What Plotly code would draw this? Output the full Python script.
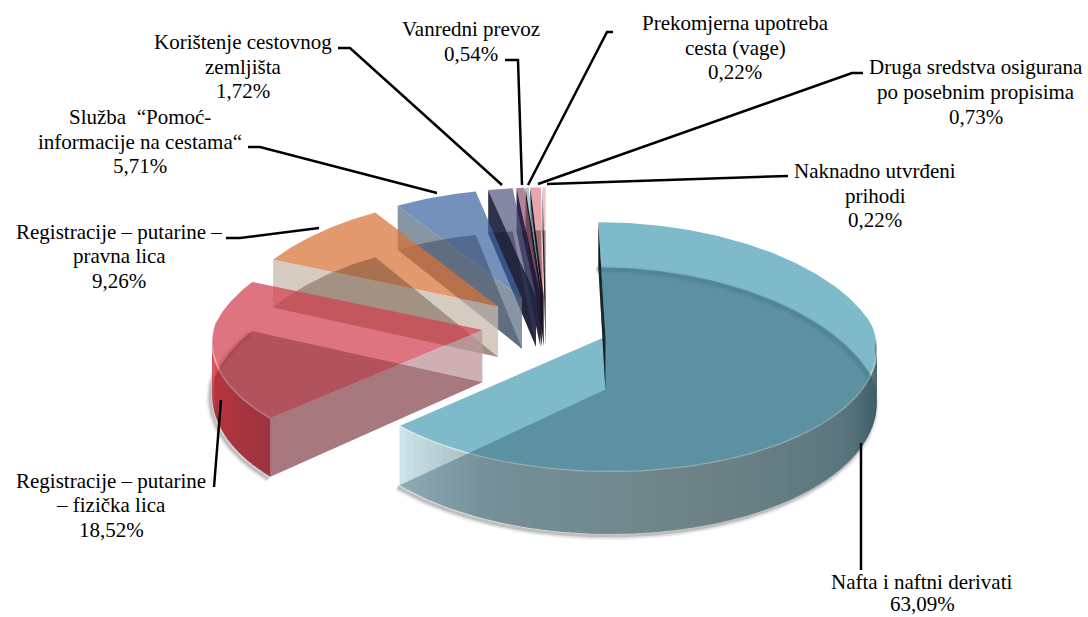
import numpy as np
import plotly.graph_objects as go

# ---------- data ----------
categories = ["Nafta i naftni derivati", "Registracije – putarine – fizička lica",
              "Registracije – putarine – pravna lica", "Služba “Pomoć-informacije na cestama“",
              "Korištenje cestovnog zemljišta", "Vanredni prevoz",
              "Prekomjerna upotreba cesta (vage)", "Druga sredstva osigurana po posebnim propisima",
              "Naknadno utvrđeni prihodi"]
shares = [63.09, 18.52, 9.26, 5.71, 1.72, 0.54, 0.22, 0.73, 0.22]
label_lines = [
    ["Nafta i naftni derivati", "63,09%"],
    ["Registracije – putarine", "– fizička lica", "18,52%"],
    ["Registracije – putarine –", "pravna lica", "9,26%"],
    ["Služba  “Pomoć-", "informacije na cestama“", "5,71%"],
    ["Korištenje cestovnog", "zemljišta", "1,72%"],
    ["Vanredni prevoz", "0,54%"],
    ["Prekomjerna upotreba", "cesta (vage)", "0,22%"],
    ["Druga sredstva osigurana", "po posebnim propisima", "0,73%"],
    ["Naknadno utvrđeni", "prihodi", "0,22%"],
]

# ---------- styles ----------
top_rgb = [(77,160,183),(209,63,79),(215,113,54),(63,102,162),(88,88,130),
           (150,85,110),(120,190,205),(225,130,140),(240,170,170)]
start_wall = ["rgba(5,10,15,0.95)","rgba(190,150,155,0.75)","rgba(200,185,172,0.75)",
              "rgba(95,115,135,0.75)","rgba(35,40,65,0.95)","rgba(35,30,60,0.95)",
              "rgba(25,20,30,0.95)","rgba(30,15,25,0.95)","rgba(40,20,30,0.9)"]
wall_stops = [[(90,(54,86,92)),(125,(125,145,150)),(165,(155,166,163)),(205,(165,185,190)),(227,(205,228,235))],
              [(227,(190,70,80)),(250,(225,70,80)),(270,(215,80,90))]] + [[(90,(120,120,120)),(270,(120,120,120))]]*7
shadow_rgb = [(30,70,85),(95,20,30),(70,40,20),(25,35,60),(15,15,40),(15,10,25),(10,10,15),(15,5,10),(15,5,10)]

# ---------- projection ----------
CX, CY, KX, KY, PERSP, PERSP_BACK_X, EXPL, H = 546, 325, 268, 122, 0.08, 0.14, 0.24, 52

def project(theta_deg, r, mid_deg, level=0.0):
    th, m = np.radians(theta_deg), np.radians(mid_deg)
    X = r*np.sin(th) + EXPL*np.sin(m)
    Y = r*np.cos(th) + EXPL*np.cos(m)
    w = 1 + PERSP*Y
    wx = 1 + np.where(Y > 0, PERSP_BACK_X, PERSP)*Y
    return CX + KX*X/wx, CY - KY*Y/w + level*H/w**2

def poly(xs, ys, color):
    xs, ys = [float(v) for v in xs], [float(v) for v in ys]
    return go.Scatter(x=xs+[xs[0]], y=ys+[ys[0]], mode="lines", fill="toself",
                      fillcolor=color, line=dict(width=0), hoverinfo="skip", showlegend=False)

def rgba(c, a):
    return f"rgba({c[0]},{c[1]},{c[2]},{a})"

traces = []
ends = np.cumsum(shares)/sum(shares)*360
starts = np.r_[0, ends[:-1]]
order = [8,7,6,5,4,3,2,1,0]
for i in order:
    a0, a1 = starts[i], ends[i]
    mid = (a0+a1)/2
    arc = np.linspace(a0, a1, max(3, int((a1-a0)*1.5)))
    ax, ay = project(arc, 1, mid)
    ox, oy = project(mid, 0, mid)
    bx, by = project(arc, 1, mid, 1)
    obx, oby = project(mid, 0, mid, 1)
    if i in (0, 1):
        for wd, al in ((9,0.05),(6,0.08),(3,0.14)):
            traces.append(go.Scatter(x=bx-2, y=by+2, mode="lines", line=dict(color=f"rgba(0,0,0,{al})", width=wd),
                                     hoverinfo="skip", showlegend=False))
    traces.append(poly([ox]+list(ax), [oy]+list(ay), rgba(top_rgb[i], 0.72)))
    traces.append(poly([ox, ax[0], bx[0], obx], [oy, ay[0], by[0], oby], start_wall[i]))
    lo, hi = max(a0, 90), min(a1, 270)
    if hi > lo:
        stops = wall_stops[i]
        sa = [s[0] for s in stops]
        edges = np.linspace(lo, hi, int((hi-lo)/2)+2)
        for e0, e1 in zip(edges[:-1], edges[1:]):
            seg = np.linspace(e0, min(e1+0.5, hi), 3)
            tx, ty = project(seg, 1, mid)
            ux, uy = project(seg, 1, mid, 1)
            c = [int(np.interp((e0+e1)/2, sa, [s[1][k] for s in stops])) for k in range(3)]
            traces.append(poly(list(tx)+list(ux[::-1]), list(ty)+list(uy[::-1]), rgba(c, 1)))
        sx, sy = project(np.linspace(lo, hi, 60), 1, mid)
        traces.append(go.Scatter(x=sx, y=sy, mode="lines", line=dict(color="rgba(255,255,255,0.45)", width=1.5),
                                 hoverinfo="skip", showlegend=False))
    traces.append(poly([obx]+list(bx), [oby]+list(by), rgba(shadow_rgb[i], 0.35)))

# ---------- leader lines and labels ----------
leaders = [
    [(861,443),(861,570)],
    [(221,400),(214,487)],
    [(319,228),(240,238),(226,238)],
    [(437,193),(260,147),(248,147)],
    [(502,185),(350,48),(338,48)],
    [(522,185),(518,60),(505,60)],
    [(528,185),(607,32),(613,32)],
    [(538,184),(852,73),(863,73)],
    [(547,184),(770,177),(788,176)],
]
label_x = [922, 111, 119, 140, 243, 471, 735, 976, 875]
label_y = [[582,604],[481,505,530],[232,256,281],[117,142,166],[42,67,91],[29,54],[23,48,72],[67,92,117],[171,196,220]]
for pts in leaders:
    traces.append(go.Scatter(x=[p[0] for p in pts], y=[p[1] for p in pts], mode="lines",
                             line=dict(color="black", width=2.5), hoverinfo="skip", showlegend=False))

fig = go.Figure(traces)
for lines, x, ys in zip(label_lines, label_x, label_y):
    for text, y in zip(lines, ys):
        fig.add_annotation(x=x, y=y, text=text, showarrow=False, xanchor="center", yanchor="middle",
                           align="center", font=dict(family="Liberation Serif", size=21, color="black"))
fig.update_layout(width=1088, height=617, margin=dict(l=0, r=0, t=0, b=0), paper_bgcolor="white",
                  plot_bgcolor="white", showlegend=False,
                  xaxis=dict(range=[0,1088], visible=False, fixedrange=True),
                  yaxis=dict(range=[617,0], visible=False, fixedrange=True))
fig.write_html("out.html", config={"displayModeBar": False}, post_script="document.body.style.margin='0';")
